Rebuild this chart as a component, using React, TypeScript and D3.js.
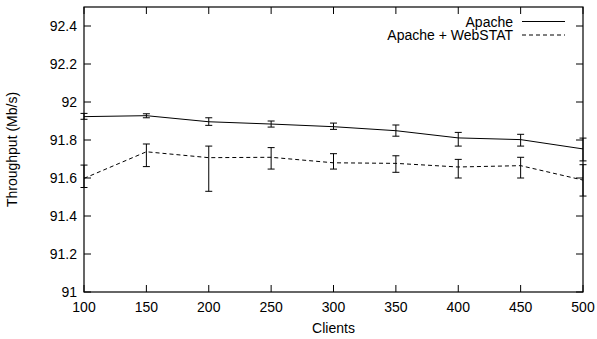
import React, { useEffect, useRef } from 'react';
import * as d3 from 'd3';

const clients = [100, 150, 200, 250, 300, 350, 400, 450, 500];

const apacheMean = [91.923, 91.928, 91.896, 91.884, 91.87, 91.849, 91.811, 91.802, 91.753];
const apacheLow = [91.909, 91.917, 91.877, 91.868, 91.856, 91.82, 91.768, 91.768, 91.69];
const apacheHigh = [91.94, 91.938, 91.917, 91.9, 91.889, 91.879, 91.84, 91.83, 91.81];

const webstatMean = [91.598, 91.738, 91.707, 91.709, 91.68, 91.677, 91.658, 91.665, 91.589];
const webstatLow = [91.55, 91.66, 91.53, 91.647, 91.647, 91.63, 91.6, 91.6, 91.505];
const webstatHigh = [91.668, 91.779, 91.768, 91.76, 91.728, 91.717, 91.698, 91.709, 91.67];

const xTicks = [100, 150, 200, 250, 300, 350, 400, 450, 500];
const yTicks = [91, 91.2, 91.4, 91.6, 91.8, 92, 92.2, 92.4];

const W = 597;
const H = 339;
const FONT = '"Liberation Sans", Arial, Helvetica, sans-serif';

const App = () => {
  const svgRef = useRef(null);

  useEffect(() => {
    const svg = d3.select(svgRef.current);
    svg.selectAll('*').remove();

    const margin = { top: 7, right: 14, bottom: 47, left: 84 };
    const x = d3.scaleLinear().domain([100, 500]).range([margin.left, W - margin.right]);
    const y = d3.scaleLinear().domain([91, 92.5]).range([H - margin.bottom, margin.top]);
    const [x0, x1] = x.range();
    const [y0, y1] = y.range();
    const tick = 7;

    // border
    svg.append('rect')
      .attr('x', x0).attr('y', y1)
      .attr('width', x1 - x0).attr('height', y0 - y1)
      .attr('fill', 'none').attr('stroke', '#000').attr('stroke-width', 1.2);

    // ticks (mirrored, inward)
    const ticks = svg.append('g').attr('stroke', '#000').attr('stroke-width', 1);
    xTicks.forEach((t) => {
      ticks.append('line').attr('x1', x(t)).attr('x2', x(t)).attr('y1', y0).attr('y2', y0 - tick);
      ticks.append('line').attr('x1', x(t)).attr('x2', x(t)).attr('y1', y1).attr('y2', y1 + tick);
    });
    yTicks.forEach((t) => {
      ticks.append('line').attr('x1', x0).attr('x2', x0 + tick).attr('y1', y(t)).attr('y2', y(t));
      ticks.append('line').attr('x1', x1).attr('x2', x1 - tick).attr('y1', y(t)).attr('y2', y(t));
    });

    // tick labels
    svg.append('g')
      .selectAll('text')
      .data(xTicks)
      .enter()
      .append('text')
      .attr('x', (d) => x(d))
      .attr('y', 312)
      .attr('text-anchor', 'middle')
      .attr('font-family', FONT)
      .attr('font-size', 14)
      .attr('fill', '#000')
      .text((d) => d);

    svg.append('g')
      .selectAll('text')
      .data(yTicks)
      .enter()
      .append('text')
      .attr('x', 77)
      .attr('y', (d) => y(d) + 5)
      .attr('text-anchor', 'end')
      .attr('font-family', FONT)
      .attr('font-size', 14)
      .attr('fill', '#000')
      .text((d) => d3.format('~g')(d));

    // axis titles
    svg.append('text')
      .attr('x', (x0 + x1) / 2)
      .attr('y', 333)
      .attr('text-anchor', 'middle')
      .attr('font-family', FONT)
      .attr('font-size', 14)
      .text('Clients');

    svg.append('text')
      .attr('transform', `translate(17, ${(y0 + y1) / 2}) rotate(-90)`)
      .attr('text-anchor', 'middle')
      .attr('font-family', FONT)
      .attr('font-size', 14)
      .text('Throughput (Mb/s)');

    const series = [
      { mean: apacheMean, low: apacheLow, high: apacheHigh, dash: null },
      { mean: webstatMean, low: webstatLow, high: webstatHigh, dash: '4,3' },
    ];

    const line = d3.line()
      .x((d) => x(d[0]))
      .y((d) => y(d[1]));

    series.forEach((s) => {
      const pts = clients.map((c, i) => [c, s.mean[i]]);
      svg.append('path')
        .datum(pts)
        .attr('fill', 'none')
        .attr('stroke', '#000')
        .attr('stroke-width', 1)
        .attr('stroke-dasharray', s.dash)
        .attr('d', line);

      const eb = svg.append('g').attr('stroke', '#000').attr('stroke-width', 1);
      clients.forEach((c, i) => {
        const cx = x(c);
        eb.append('line').attr('x1', cx).attr('x2', cx).attr('y1', y(s.low[i])).attr('y2', y(s.high[i]));
        eb.append('line').attr('x1', cx - 3.5).attr('x2', cx + 3.5).attr('y1', y(s.low[i])).attr('y2', y(s.low[i]));
        eb.append('line').attr('x1', cx - 3.5).attr('x2', cx + 3.5).attr('y1', y(s.high[i])).attr('y2', y(s.high[i]));
      });
    });

    // legend
    const legend = [
      { label: 'Apache', dash: null },
      { label: 'Apache + WebSTAT', dash: '4,3' },
    ];
    legend.forEach((l, i) => {
      const ly = 21.5 + i * 13.5;
      svg.append('text')
        .attr('x', 513)
        .attr('y', ly + 5)
        .attr('text-anchor', 'end')
        .attr('font-family', FONT)
        .attr('font-size', 14)
        .text(l.label);
      svg.append('line')
        .attr('x1', 522).attr('x2', 565)
        .attr('y1', ly).attr('y2', ly)
        .attr('stroke', '#000')
        .attr('stroke-width', 1)
        .attr('stroke-dasharray', l.dash);
    });
  }, []);

  return (
    <svg
      ref={svgRef}
      width={W}
      height={H}
      style={{ position: 'absolute', left: 0, top: 0, background: '#fff' }}
    />
  );
};

export default App;
